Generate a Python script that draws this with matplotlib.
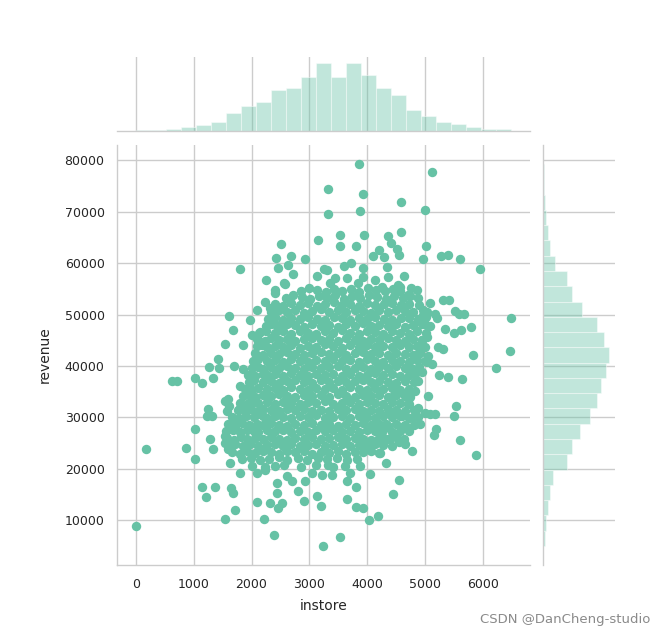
import numpy as np
import matplotlib
matplotlib.use("Agg")
import matplotlib.pyplot as plt

# ---------------- data ----------------
# scattered / outer points
outer_instore = [
    3317, 3317, 3154, 2503, 2422, 2688, 2918, 2451, 2636, 2711, 1799, 2244, 2566, 3126, 3247, 2405,
    3853, 5121, 3922, 4580, 3875, 4994, 3529, 3950, 4580, 4365, 3529, 3801, 4406, 4510, 5017, 4209,
    4095, 4296, 4550, 4971, 3599, 3720, 3922, 4337, 3299, 3443, 3645, 3922, 4135, 4365, 4637, 4527,
    4753, 3846, 3356, 4250,
    5271, 5393, 5600, 5952,
    1609, 1684, 1540, 1413, 1263, 1436, 1701, 630, 720, 1021, 1148, 1332, 1540, 1609, 1251, 1320,
    1223, 1569,
    2578, 2405, 2232, 2318, 2088, 1972, 2001, 2145, 1857, 1857, 1799, 2001, 1597, 1799, 1972, 2116,
    2116, 2578, 2405,
    5087, 5317, 5415, 5029, 5173, 5202, 5519, 5577, 5680, 6488, 5346, 5507, 5623, 5796, 5029, 5230,
    5317, 5836, 6459, 5057, 5029, 5116, 6228, 5248, 5393, 5635, 5057, 5531, 5087, 5173, 5507,
    5185, 5161, 5600, 5877,
    185, 860, 1021, 1021, 1280, 1332, 1540, 1540, 1597, 1626, 1684, 1136, 1211, 1367, 1644, 1684,
    1713, 1540, 0,
    1799, 2088, 2220, 2388, 2318, 2462, 2531, 2434, 2434, 2607, 2693, 2796, 2901, 2924, 3126, 3201,
    3241, 2088, 2232, 2405, 3040, 3213, 3386,
    3645, 3801, 3645, 3806, 3922, 4031, 4182, 4550, 4452, 3524, 3875, 4048, 4320, 4770, 4654, 4550,
    4394, 4250, 4642, 4815, 4320, 4221, 3316, 3702,
    4884, 4856, 4567, 4711, 4971, 5000, 4943, 4884, 5000, 4943, 4884, 4654, 4827, 4424, 4711, 4884,
    5000, 4365, 4596,
]
outer_revenue = [
    74460, 69430, 64540, 63620, 61020, 61280, 60760, 59120, 59650, 57830, 58920, 56770, 56060, 57550, 58870, 54760,
    79220, 77590, 73410, 71840, 70020, 70270, 65520, 65520, 66110, 65270, 63230, 63370, 63890, 62780, 63370, 62450,
    61280, 61150, 61540, 60760, 59450, 59980, 59120, 59320, 58670, 57040, 57040, 57360, 56710, 57360, 57500, 55730,
    55080, 56060, 56060, 55400,
    61280, 61540, 60760, 58870,
    49670, 46930, 44320, 41390, 39880, 39630, 40080, 37000, 37000, 37730, 36690, 37730, 33230, 32250, 31720, 30290,
    30290, 31270,
    55930, 54110, 52470, 51170, 50840, 48880, 45950, 46600, 43990, 39430, 36160, 37140, 33560, 31920, 34210, 30620,
    44970, 48240, 48240,
    52270, 52800, 52800, 50510, 50190, 49410, 50700, 50190, 50190, 49330, 47260, 46480, 47070, 47580, 45620, 43660,
    43340, 42230, 42990, 42030, 40720, 40410, 39550, 38320, 37930, 37470, 34210, 32250, 30620, 30620, 30290,
    27690, 26580, 25600, 22720,
    23780, 24090, 27690, 21940, 25730, 23780, 26380, 25070, 23780, 21160, 29320, 16590, 14640, 16590, 16260, 15280,
    12030, 10270, 8960,
    19200, 13520, 10270, 7140, 13330, 12350, 13330, 15280, 17240, 18550, 17570, 15750, 13790, 17570, 14830, 12880,
    5050, 19200, 19850, 20510, 19200, 18880, 18880,
    17710, 16400, 14180, 12680, 12350, 10080, 10860, 17910, 15090, 6810, 20510, 19000, 21160, 23450, 24760, 25270,
    25730, 26380, 28340, 30100, 28790, 23110, 20840, 19200,
    53130, 54760, 55400, 53780, 49860, 48240, 44970, 42370, 41060, 38770, 37140, 34540, 35190, 33880, 32580, 31920,
    30940, 30940, 30290,
]

# dense core of the cloud, row by row
core_instore = [
    2850, 2990, 3140, 3280, 3430, 3570, 3720, 3860, 4010, 4150, 4300, 4440, 4570,
    2590, 2720, 2870, 3010, 3160, 3300, 3450, 3590, 3740, 3880, 4030, 4170, 4320, 4460, 4610, 4740,
    2410, 2550, 2690, 2840, 2980, 3130, 3270, 3420, 3560, 3710, 3850, 4000, 4140, 4290, 4430, 4580, 4720, 4900,
    2330, 2470, 2620, 2760, 2910, 3050, 3200, 3340, 3490, 3630, 3780, 3920, 4070, 4210, 4360, 4500, 4650, 4790, 4960,
    2290, 2400, 2550, 2690, 2840, 2980, 3130, 3270, 3420, 3560, 3710, 3850, 4000, 4140, 4290, 4430, 4580, 4720, 4870, 5020,
    2250, 2330, 2470, 2620, 2760, 2910, 3050, 3200, 3340, 3490, 3630, 3780, 3920, 4070, 4210, 4360, 4500, 4650, 4790, 4940, 5080,
    2130, 2250, 2400, 2540, 2690, 2830, 2980, 3120, 3270, 3410, 3560, 3700, 3850, 3990, 4140, 4280, 4430, 4570, 4720, 4860, 5010,
    2100, 2230, 2330, 2470, 2620, 2760, 2910, 3050, 3200, 3340, 3490, 3630, 3780, 3920, 4070, 4210, 4360, 4500, 4650, 4790, 4940,
    2090, 2180, 2260, 2400, 2540, 2690, 2830, 2980, 3120, 3270, 3410, 3560, 3700, 3850, 3990, 4140, 4280, 4430, 4570, 4720, 4860, 4990,
    2060, 2190, 2330, 2470, 2620, 2760, 2910, 3050, 3200, 3340, 3490, 3630, 3780, 3920, 4070, 4210, 4360, 4500, 4650, 4790, 4910,
    2030, 2120, 2260, 2400, 2540, 2690, 2830, 2980, 3120, 3270, 3410, 3560, 3700, 3850, 3990, 4140, 4280, 4430, 4570, 4720, 4860,
    2000, 2110, 2190, 2330, 2470, 2620, 2760, 2910, 3050, 3200, 3340, 3490, 3630, 3780, 3920, 4070, 4210, 4360, 4500, 4650, 4790, 4900,
    1940, 2060, 2190, 2260, 2400, 2540, 2690, 2830, 2980, 3120, 3270, 3410, 3560, 3700, 3850, 3990, 4140, 4280, 4430, 4570, 4720, 4830,
    1950, 2050, 2190, 2330, 2470, 2620, 2760, 2910, 3050, 3200, 3340, 3490, 3630, 3780, 3920, 4070, 4210, 4360, 4500, 4650, 4800,
    1890, 2000, 2120, 2260, 2400, 2540, 2690, 2830, 2980, 3120, 3270, 3410, 3560, 3700, 3850, 3990, 4140, 4280, 4430, 4570, 4720,
    1850, 1980, 2060, 2190, 2330, 2470, 2620, 2760, 2910, 3050, 3200, 3340, 3490, 3630, 3780, 3920, 4070, 4210, 4360, 4500, 4650, 4740,
    1800, 1920, 2050, 2120, 2260, 2400, 2540, 2690, 2830, 2980, 3120, 3270, 3410, 3560, 3700, 3850, 3990, 4140, 4280, 4430, 4570, 4720,
    1770, 1880, 1990, 2120, 2190, 2330, 2470, 2620, 2760, 2910, 3050, 3200, 3340, 3490, 3630, 3780, 3920, 4070, 4210, 4360, 4500, 4650, 4800,
    1670, 1790, 1910, 2050, 2190, 2260, 2400, 2540, 2690, 2830, 2980, 3120, 3270, 3410, 3560, 3700, 3850, 3990, 4140, 4280, 4430, 4570, 4720, 4880,
    1600, 1720, 1840, 1960, 2090, 2190, 2330, 2470, 2620, 2760, 2910, 3050, 3200, 3340, 3490, 3630, 3780, 3920, 4070, 4210, 4360, 4500, 4650, 4800, 4910,
    1560, 1680, 1800, 1920, 2050, 2120, 2260, 2400, 2540, 2690, 2830, 2980, 3120, 3270, 3410, 3560, 3700, 3850, 3990, 4140, 4280, 4430, 4570, 4720,
    1570, 1690, 1810, 1930, 2060, 2190, 2330, 2470, 2620, 2760, 2910, 3050, 3200, 3340, 3490, 3630, 3780, 3920, 4070, 4210, 4360, 4500, 4640,
    1600, 1720, 1850, 1980, 2120, 2260, 2400, 2540, 2690, 2830, 2980, 3120, 3270, 3410, 3560, 3700, 3850, 3990, 4140, 4280, 4430,
    1670, 1800, 1930, 2060, 2190, 2330, 2470, 2620, 2760, 2910, 3050, 3200, 3340, 3490, 3630, 3780, 3920, 4070, 4200,
    1830, 1990, 2150, 2300, 2470, 2620, 2800, 2960, 3150, 3300, 3480, 3650, 3830,
    2000, 2230, 2560, 2850, 3120, 3400, 3620,
]
core_revenue = [
    54500, 55100, 54700, 54300, 55000, 54600, 54900, 54400, 55200, 54700, 54500, 55000, 54600,
    53200, 53700, 53400, 53000, 53600, 53300, 53800, 53100, 53500, 53200, 53700, 53400, 53000, 53600, 53300, 53500,
    52100, 51700, 52300, 51900, 52200, 51600, 52000, 52400, 51800, 52100, 51700, 52300, 51900, 52000, 52200, 51800, 52100, 51900,
    50500, 50900, 50400, 50800, 50300, 50700, 51000, 50500, 50800, 50400, 50900, 50600, 50300, 50800, 50500, 50900, 50600, 50400, 50800,
    49200, 49500, 49000, 49400, 49100, 49600, 49200, 49000, 49500, 49300, 48900, 49400, 49100, 49600, 49200, 49000, 49400, 49300, 49100, 49500,
    47800, 48200, 47700, 48100, 47900, 47600, 48200, 47800, 48000, 47600, 48100, 47800, 48300, 47700, 48000, 47800, 48200, 47600, 47900, 48100, 47800,
    46500, 46800, 46400, 46700, 46300, 46800, 46500, 46200, 46700, 46400, 46900, 46500, 46300, 46700, 46600, 46200, 46800, 46500, 46300, 46700, 46400,
    45200, 44900, 45400, 45000, 45300, 44800, 45200, 45500, 45000, 45300, 44900, 45400, 45100, 44800, 45300, 45000, 45400, 45100, 44900, 45300, 45000,
    43800, 44100, 43600, 43900, 43700, 44100, 43500, 43900, 43700, 44200, 43800, 43500, 44000, 43700, 44100, 43600, 43900, 43700, 44000, 43600, 43900, 43700,
    42500, 42200, 42600, 42300, 42700, 42400, 42100, 42500, 42800, 42300, 42600, 42200, 42500, 42700, 42300, 42500, 42100, 42600, 42400, 42200, 42500,
    41000, 41300, 40900, 41200, 40800, 41300, 41000, 40700, 41200, 41000, 41400, 40900, 41100, 40800, 41300, 41000, 40700, 41200, 41000, 40800, 41200,
    39600, 39900, 39500, 39800, 39600, 40000, 39700, 39400, 39900, 39600, 39800, 40000, 39500, 39700, 39900, 39500, 39800, 39600, 40000, 39700, 39500, 39800,
    38300, 38000, 38500, 38200, 38400, 38100, 38600, 38300, 38000, 38400, 38200, 38500, 38100, 38400, 38000, 38300, 38600, 38200, 38400, 38100, 38300, 38500,
    36900, 37200, 36800, 37100, 36700, 37000, 37300, 36900, 36700, 37200, 36900, 37100, 36800, 37000, 37300, 36800, 37100, 36900, 36700, 37100, 36900,
    35600, 35300, 35800, 35500, 35700, 35400, 35900, 35600, 35300, 35800, 35500, 35700, 35400, 35900, 35600, 35300, 35700, 35500, 35800, 35400, 35600,
    34200, 34500, 34000, 34300, 34100, 34500, 34200, 33900, 34400, 34100, 34300, 34000, 34500, 34200, 33900, 34400, 34100, 34300, 34000, 34400, 34200, 34000,
    32900, 32600, 33100, 32800, 33000, 32700, 33100, 32800, 32600, 33000, 32800, 33200, 32700, 32900, 33100, 32700, 33000, 32800, 32600, 33000, 32800, 32700,
    31500, 31200, 31600, 31300, 31700, 31400, 31200, 31600, 31400, 31700, 31300, 31500, 31200, 31600, 31400, 31700, 31300, 31500, 31200, 31600, 31400, 31300, 31500,
    30100, 29800, 30300, 30000, 30200, 29900, 30300, 30000, 29800, 30200, 30000, 30400, 29900, 30100, 30300, 29900, 30200, 30000, 29800, 30300, 30000, 30200, 29900, 30100,
    28700, 28400, 28900, 28600, 28800, 28500, 28900, 28600, 28400, 28800, 28600, 28900, 28500, 28700, 28400, 28800, 28600, 28900, 28500, 28700, 28400, 28800, 28600, 28500, 28800,
    27300, 27600, 27200, 27500, 27300, 27100, 27500, 27300, 27600, 27200, 27400, 27100, 27500, 27300, 27600, 27200, 27400, 27100, 27500, 27300, 27600, 27200, 27400, 27300,
    26000, 25700, 26200, 25900, 26100, 25800, 26200, 25900, 25700, 26100, 25900, 26200, 25800, 26000, 26300, 25800, 26100, 25900, 25700, 26100, 25900, 26200, 25900,
    24600, 24900, 24500, 24800, 24400, 24700, 24900, 24500, 24800, 24400, 24700, 24900, 24500, 24600, 24800, 24400, 24700, 24500, 24800, 24600, 24400,
    23300, 23000, 23400, 23100, 23500, 23200, 22900, 23400, 23200, 23500, 23000, 23300, 23100, 23400, 23000, 23300, 23200, 23500, 23100,
    21900, 22200, 21700, 22000, 22300, 21800, 22100, 21700, 22200, 21900, 22100, 21800, 22000,
    20600, 20300, 20700, 20400, 20800, 20300, 20600,
]

# marginal histogram bar heights (relative counts)
instore_counts = [1, 1, 2, 4, 6, 9, 18, 25, 29, 41, 43, 54, 68, 54, 68, 56, 43, 36, 21, 15, 9, 7, 4, 2, 2]
revenue_counts = [2, 3, 5, 7, 10, 25, 30, 38, 48, 55, 60, 65, 68, 63, 55, 40, 30, 25, 12, 7, 5, 3, 2, 1, 1]

x_label = "instore"
y_label = "revenue"
x_ticks = [0, 1000, 2000, 3000, 4000, 5000, 6000]
y_ticks = [10000, 20000, 30000, 40000, 50000, 60000, 70000, 80000]
watermark = "CSDN @DanCheng-studio"

# ---------------- drawing ----------------
instore = np.array(outer_instore + core_instore, dtype=float)
revenue = np.array(outer_revenue + core_revenue, dtype=float)

color = "#66c2a5"
grid_c = "#cccccc"
text_c = "#262626"
plt.rcParams["font.family"] = ["DejaVu Sans"]

fig = plt.figure(figsize=(6.61, 6.37), dpi=100)
W, H = 661.0, 637.0
def rect(l, t, r, b):
    return [l / W, 1 - b / H, (r - l) / W, (b - t) / H]

ax = fig.add_axes(rect(117, 145, 530, 565))
axx = fig.add_axes(rect(117, 57, 530, 131), sharex=ax)
axy = fig.add_axes(rect(543, 145, 615, 565), sharey=ax)

ax.scatter(instore, revenue, s=46, color=color, linewidths=0, zorder=3)
ax.set_xticks(x_ticks)
ax.set_yticks(y_ticks)
ax.set_xlabel(x_label, fontsize=10, color=text_c, labelpad=6)
ax.set_ylabel(y_label, fontsize=10, color=text_c, labelpad=9)

# marginal histograms
xe = np.linspace(instore.min(), instore.max(), len(instore_counts) + 1)
axx.bar(xe[:-1], instore_counts, width=np.diff(xe), align="edge",
        color=color, alpha=0.4, edgecolor="white", linewidth=0.8, zorder=2)
ye = np.linspace(revenue.min(), revenue.max(), len(revenue_counts) + 1)
axy.barh(ye[:-1], revenue_counts, height=np.diff(ye), align="edge",
         color=color, alpha=0.4, edgecolor="white", linewidth=0.8, zorder=2)
axx.set_ylim(0, 74)
axy.set_xlim(0, 74)

for a in (ax, axx, axy):
    a.set_facecolor("white")
    a.set_axisbelow(True)
    a.tick_params(length=0, colors=text_c, labelsize=9, pad=9)
    for s in a.spines.values():
        s.set_color(grid_c)
        s.set_linewidth(1.0)

ax.grid(True, color=grid_c, linewidth=1.0)
ax.spines["top"].set_visible(False)
ax.spines["right"].set_visible(False)

axx.xaxis.grid(True, color=grid_c, linewidth=1.0)
axx.yaxis.grid(False)
for s in ("top", "right", "left"):
    axx.spines[s].set_visible(False)
axx.tick_params(labelbottom=False, labelleft=False)
axx.set_yticks([])

axy.yaxis.grid(True, color=grid_c, linewidth=1.0)
axy.xaxis.grid(False)
for s in ("top", "right", "bottom"):
    axy.spines[s].set_visible(False)
axy.tick_params(labelbottom=False, labelleft=False)
axy.set_xticks([])

fig.text(650 / W, 1 - 619 / H, watermark, ha="right", va="center",
         fontsize=9.5, color="#8a8a8a")

fig.savefig("out.png", dpi=100, facecolor="white")
